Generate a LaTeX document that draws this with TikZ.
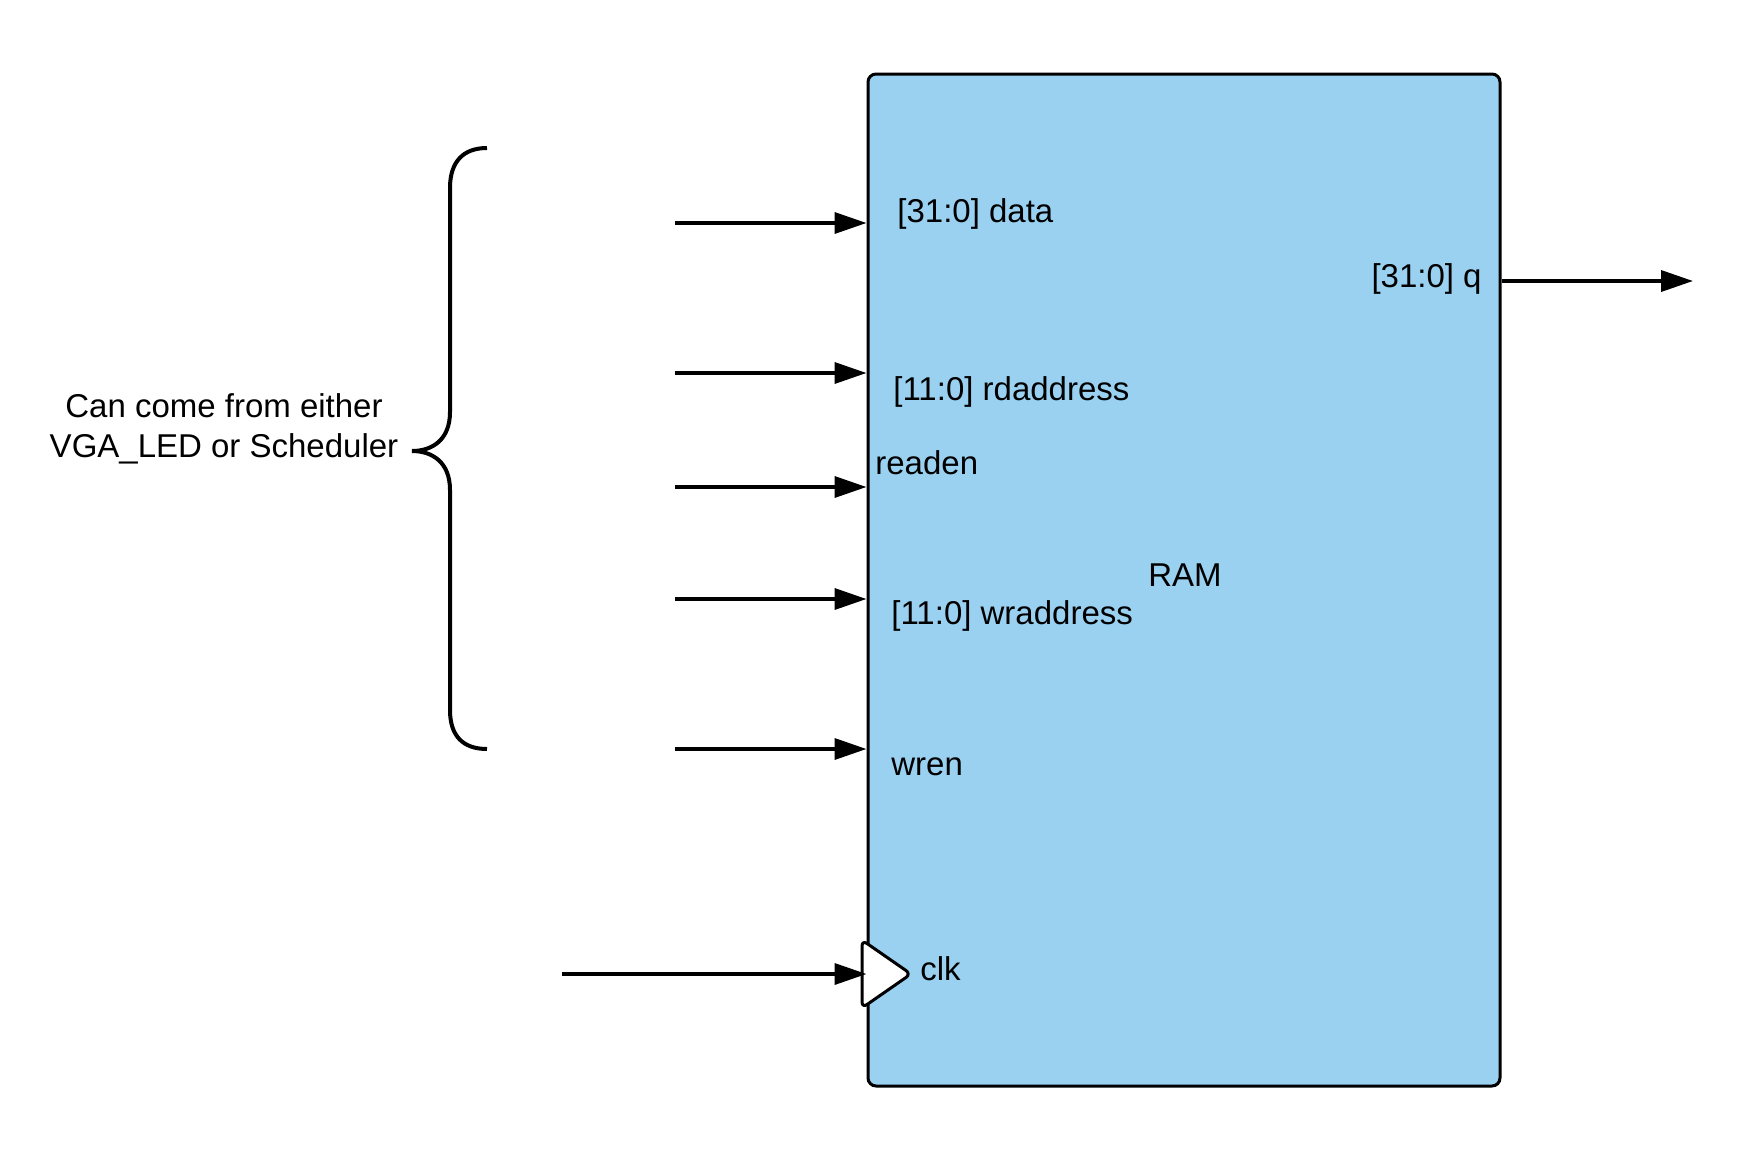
\documentclass[tikz,border=0pt]{standalone}
\usepackage{fontspec}
\setmainfont{Liberation Sans}
\usetikzlibrary{arrows.meta}
\definecolor{ramblue}{RGB}{154,209,241}
\begin{document}
\begin{tikzpicture}[x=0.5pt,y=-0.5pt,
  font=\fontsize{16.5}{20}\selectfont,
  sig/.style={line width=1.8pt, -{Triangle[length=16pt,width=10.5pt]}},
  lbl/.style={anchor=base west, inner sep=0pt},
  blk/.style={draw, line width=1.5pt, fill=ramblue, rounded corners=4pt,
    minimum width=316pt, minimum height=506pt, inner sep=0pt},
  clkmark/.style={draw, line width=1.5pt, fill=white, rounded corners=3pt, line join=round},
  bracestyle/.style={line width=2pt}]
\useasboundingbox (0,0) rectangle (1763,1163);

\node[blk] (ram) at (1184,580) {};

% clock marker
\draw[clkmark] (862,940) -- (911,974) -- (862,1008) -- cycle;

% inputs
\coordinate (idata) at (675,223);
\coordinate (ird) at (675,373);
\coordinate (ire) at (675,487);
\coordinate (iwr) at (675,599);
\coordinate (iwren) at (675,749);
\coordinate (iclk) at (562,974);
\coordinate (qout) at (1693,281);

\draw[sig] (idata) -- (idata -| ram.west);
\draw[sig] (ird) -- (ird -| ram.west);
\draw[sig] (ire) -- (ire -| ram.west);
\draw[sig] (iwr) -- (iwr -| ram.west);
\draw[sig] (iwren) -- (iwren -| ram.west);
\draw[sig] (iclk) -- (iclk -| ram.west);
\draw[sig] (ram.east |- qout) -- (qout);

% labels
\node[lbl] (ldata) at (897,222) {[31:0] data};
\node[lbl] (lrd) at (893,400) {[11:0] rdaddress};
\node[lbl] (lre) at (875,474) {readen};
\node[lbl] (lwr) at (891,624) {[11:0] wraddress};
\node[lbl] (lram) at (1148,586) {RAM};
\node[lbl] (lwren) at (891,775) {wren};
\node[lbl] (lclk) at (920,980) {clk};
\node[anchor=base east, inner sep=0pt] (lq) at (1482,287) {[31:0] q};

% brace
\draw[bracestyle] (487,148) .. controls (463,148) and (450,162) .. (450,188)
  -- (450,412) .. controls (450,440) and (432,451) .. (412,451)
  .. controls (432,451) and (450,462) .. (450,490)
  -- (450,710) .. controls (450,736) and (463,749) .. (487,749);

\node[align=center, anchor=base, inner sep=0pt] (note) at (224,457)
  {Can come from either\\VGA\_LED or Scheduler};
\end{tikzpicture}
\end{document}
